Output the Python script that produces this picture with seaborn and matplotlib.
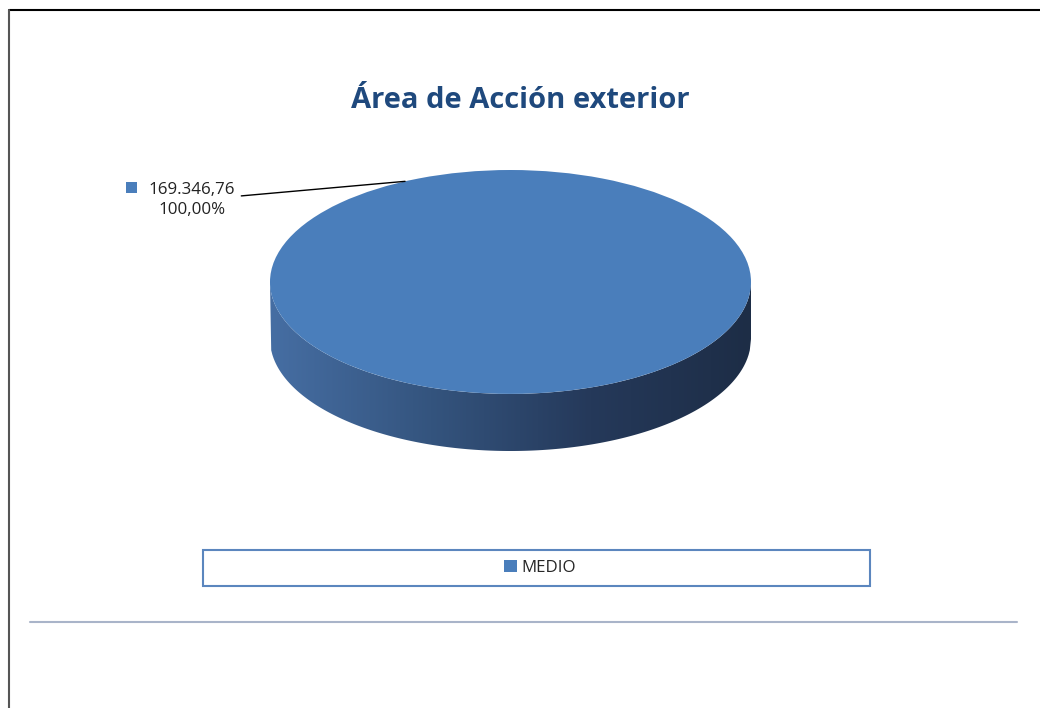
import numpy as np
import matplotlib
matplotlib.use("Agg")
import matplotlib.pyplot as plt
import seaborn as sns
from matplotlib.patches import Rectangle, PathPatch
from matplotlib.path import Path
from matplotlib.lines import Line2D

# datos
categorias = ["MEDIO"]
importes = [169346.76]
titulo = "Área de Acción exterior"
color_top = "#4a7ebb"

sns.set_theme(style="white")
plt.rcParams["font.family"] = ["Open Sans", "DejaVu Sans"]


def fmt_es(v, dec=2):
    s = f"{v:,.{dec}f}"
    return s.replace(",", "X").replace(".", ",").replace("X", ".")


fig = plt.figure(figsize=(10.4, 7.08), dpi=100)
W, H = 1040, 708

# tarta "3D": elipse superior + lateral con degradado
depth = 0.51
ax = fig.add_axes([270 / W, 1 - 451 / H, 481 / W, 281 / H])
lado = sns.blend_palette(["#466ea3", "#34547e", "#25395a", "#1d2d46"], n_colors=256, as_cmap=True)
xs = np.linspace(-1, 1, 400)
y_top = -np.sqrt(1 - xs ** 2)
verts = np.concatenate([np.column_stack([xs, y_top]),
                        np.column_stack([xs[::-1], y_top[::-1] - depth])])
clip = PathPatch(Path(verts, closed=True), facecolor="none", edgecolor="none")
ax.add_patch(clip)
grad = np.linspace(0, 1, 256).reshape(1, -1)
im = ax.imshow(grad, cmap=lado, extent=[-1, 1, -1 - depth, 0], aspect="auto", zorder=1)
im.set_clip_path(clip)

total = sum(importes)
wedges, _ = ax.pie(importes, colors=[color_top], startangle=90, radius=1,
                   wedgeprops=dict(edgecolor="none", zorder=2))
ax.set_aspect("auto")
ax.set_xlim(-1, 1)
ax.set_ylim(-1 - depth, 1)
ax.axis("off")

# etiqueta de datos
ang = np.deg2rad(116)
etiqueta = f"{fmt_es(importes[0])}\n{fmt_es(importes[0] / total * 100)}%"
ax.annotate(etiqueta, xy=(np.cos(ang), np.sin(ang)), xycoords="data",
            xytext=(192 / W, 1 - 200 / H), textcoords="figure fraction",
            ha="center", va="center", multialignment="center",
            fontsize=12.2, color="#222222", linespacing=1.3,
            arrowprops=dict(arrowstyle="-", color="black", lw=1.0,
                            relpos=(1.0, 0.6), shrinkA=2, shrinkB=0))
fig.patches.append(Rectangle((126 / W, 1 - 193 / H), 11 / W, 11 / H,
                             transform=fig.transFigure, facecolor=color_top,
                             edgecolor="none"))

# título
fig.text(520 / W, 1 - 101 / H, titulo, ha="center", va="center",
         fontsize=21, fontweight="bold", color="#1f497d")

# leyenda
fig.patches.append(Rectangle((203 / W, 1 - 586 / H), 667 / W, 36 / H,
                             transform=fig.transFigure, facecolor="white",
                             edgecolor="#5b86be", lw=1.5))
fig.legend(wedges, categorias, loc="center", bbox_to_anchor=(540 / W, 1 - 568 / H),
           frameon=False, fontsize=12.2, handlelength=0.75, handleheight=0.75,
           handletextpad=0.25, borderpad=0)

# marco y línea inferior
fig.add_artist(Line2D([9 / W, 1], [1 - 10 / H, 1 - 10 / H], color="black", lw=1.5,
                      transform=fig.transFigure))
fig.add_artist(Line2D([9 / W, 9 / W], [0, 1 - 10 / H], color="#555555", lw=1.5,
                      transform=fig.transFigure))
fig.add_artist(Line2D([30 / W, 1017 / W], [1 - 622 / H, 1 - 622 / H], color="#a9b4c9",
                      lw=1.5, transform=fig.transFigure))

fig.savefig("out.png", dpi=100)
